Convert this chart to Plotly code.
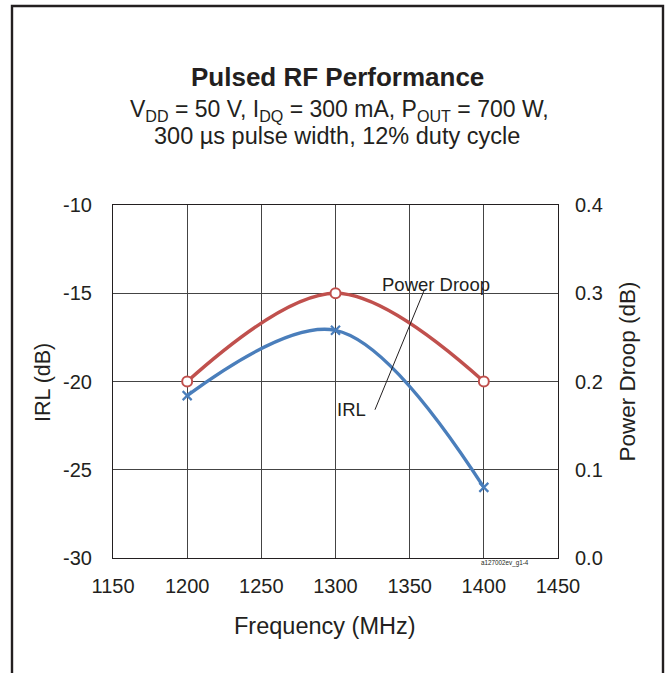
import plotly.graph_objects as go

freq = [1200, 1300, 1400]
irl = [-20.8, -17.1, -26.0]
power_droop = [0.2, 0.3, 0.2]

x_ticks = [1150, 1200, 1250, 1300, 1350, 1400, 1450]
y_left_ticks = [-30, -25, -20, -15, -10]
y_left_labels = ["-30", "-25", "-20", "-15", "-10"]
y_right_ticks = [0.0, 0.1, 0.2, 0.3, 0.4]

FONT = "Arial, Liberation Sans, sans-serif"
RED = "#c0504d"
BLUE = "#4a7ebb"
TXT = "#231f20"

W, H = 666, 673
# plot-area edges in window pixels
L, R, T, B = 113, 558, 205, 558
pw, ph = R - L, B - T

def px(xp):
    return (xp - L) / pw

def py(yp):
    return (B - yp) / ph

fig = go.Figure()
fig.add_trace(go.Scatter(
    x=freq, y=power_droop, yaxis="y2", mode="lines+markers",
    line=dict(color=RED, width=3.4, shape="spline", smoothing=1.0),
    marker=dict(symbol="circle", size=10, color="white", line=dict(color=RED, width=2)),
    name="Power Droop", showlegend=False))
fig.add_trace(go.Scatter(
    x=freq, y=irl, mode="lines+markers",
    line=dict(color=BLUE, width=3.4, shape="spline", smoothing=1.0),
    marker=dict(symbol="x-thin", size=9, color=BLUE, line=dict(color=BLUE, width=2.2)),
    name="IRL", showlegend=False))

fig.update_layout(
    width=W, height=H,
    margin=dict(l=L, r=W - R, t=T, b=H - B, pad=0),
    paper_bgcolor="white", plot_bgcolor="white",
    font=dict(family=FONT, color=TXT, size=20),
    xaxis=dict(range=[1150, 1450], tickvals=x_ticks, showgrid=True,
               gridcolor="#444444", gridwidth=1, zeroline=False,
               showline=True, linecolor=TXT, linewidth=1.2, mirror=True,
               ticks="", tickfont=dict(size=20), ticklabelstandoff=10),
    yaxis=dict(range=[-30, -10], tickvals=y_left_ticks, ticktext=y_left_labels, showgrid=True,
               gridcolor="#444444", gridwidth=1, zeroline=False,
               showline=True, linecolor=TXT, linewidth=1.2, mirror=True,
               ticks="", tickfont=dict(size=20), ticklabelstandoff=16),
    yaxis2=dict(range=[0, 0.4], tickvals=y_right_ticks, tickformat=".1f",
                overlaying="y", side="right", showgrid=False, zeroline=False,
                ticks="", tickfont=dict(size=20), ticklabelstandoff=16),
)

annotations = [
    dict(text="<b>Pulsed RF Performance</b>", x=px(337.5), y=py(77), font=dict(size=26)),
    dict(text="V<sub>DD</sub> = 50 V, I<sub>DQ</sub> = 300 mA, P<sub>OUT</sub> = 700 W,",
         x=px(339), y=py(111), font=dict(size=23)),
    dict(text="300 µs pulse width, 12% duty cycle", x=px(336.5), y=py(136), font=dict(size=23.5)),
    dict(text="a127002ev_g1-4", x=px(505), y=py(563), font=dict(size=6.3)),
    dict(text="IRL (dB)", x=px(43), y=py(383), font=dict(size=21.5), textangle=-90),
    dict(text="Power Droop (dB)", x=px(627), y=py(371.5), font=dict(size=22.5), textangle=-90),
    dict(text="Frequency (MHz)", x=px(325), y=py(626), font=dict(size=23.5)),
]
for a in annotations:
    a.update(xref="paper", yref="paper", showarrow=False, xanchor="center", yanchor="middle")
fig.update_layout(annotations=annotations)

fig.add_annotation(text="Power Droop", x=1367.8, y=-14.5, xref="x", yref="y",
                   showarrow=False, font=dict(size=18.5), xanchor="center", yanchor="middle")
fig.add_annotation(text="IRL", x=1311, y=-21.6, xref="x", yref="y",
                   showarrow=False, font=dict(size=18.5), xanchor="center", yanchor="middle")
fig.add_shape(type="line", xref="x", yref="y", x0=1359.7, y0=-14.85, x1=1326.6, y1=-21.6,
              line=dict(color=TXT, width=1))

fig.add_shape(type="rect", xref="paper", yref="paper",
              x0=px(12), x1=px(663), y0=py(700), y1=py(6),
              line=dict(color=TXT, width=2.4), layer="above")

fig.write_html("out.html", config={"displayModeBar": False},
               post_script="document.body.style.margin='0';document.body.style.overflow='hidden';")
